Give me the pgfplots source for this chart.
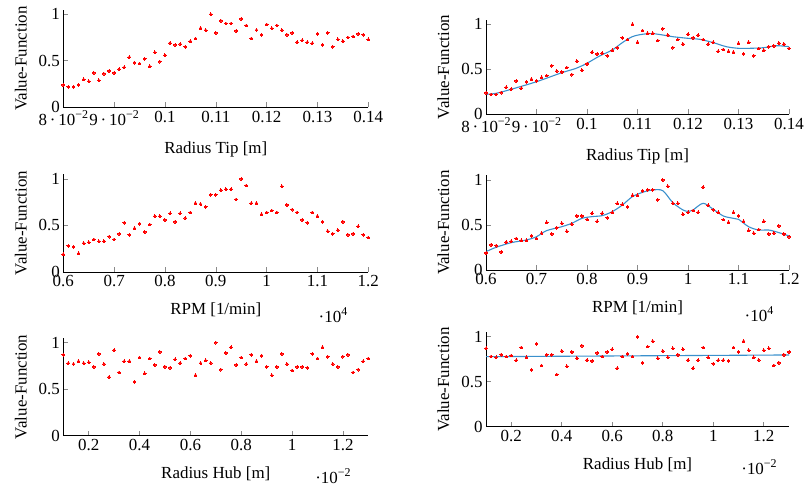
\documentclass[border=0pt]{standalone}
\usepackage{fontspec}
\setmainfont{Liberation Serif}
\usepackage{pgfplots}
\usepackage{pgfplotstable}
\pgfplotsset{compat=1.18}
\definecolor{fitblue}{HTML}{3A90CC}
\definecolor{tickgray}{HTML}{8A8A8A}
\newcommand\fs{\fontsize{17}{20}\selectfont}
\newcommand\sups[1]{\raisebox{0.42em}{\fontsize{12}{12}\selectfont #1}}

% radius tip [m] vs value
\pgfplotstableread{
x y
0.080 0.24
0.081 0.22
0.082 0.22
0.083 0.24
0.084 0.30
0.085 0.28
0.086 0.37
0.087 0.29
0.088 0.36
0.089 0.39
0.090 0.37
0.091 0.41
0.092 0.43
0.093 0.54
0.094 0.48
0.095 0.47
0.096 0.52
0.097 0.44
0.098 0.59
0.099 0.49
0.100 0.56
0.101 0.69
0.102 0.67
0.103 0.68
0.104 0.65
0.105 0.71
0.106 0.74
0.107 0.85
0.108 0.83
0.109 1.00
0.110 0.80
0.111 0.93
0.112 0.90
0.113 0.90
0.114 0.82
0.115 0.95
0.116 0.88
0.117 0.74
0.118 0.83
0.119 0.78
0.120 0.89
0.121 0.85
0.122 0.88
0.123 0.83
0.124 0.78
0.125 0.80
0.126 0.70
0.127 0.72
0.128 0.70
0.129 0.69
0.130 0.79
0.131 0.67
0.132 0.80
0.133 0.65
0.134 0.73
0.135 0.71
0.136 0.75
0.137 0.76
0.138 0.79
0.139 0.78
0.140 0.73
}\tipdata

% rpm [1/min] vs value
\pgfplotstableread{
x y
6000 0.19
6100 0.28
6200 0.27
6300 0.20
6400 0.31
6500 0.32
6600 0.35
6700 0.33
6800 0.33
6900 0.38
7000 0.35
7100 0.41
7200 0.53
7300 0.40
7400 0.47
7500 0.52
7600 0.43
7700 0.51
7800 0.60
7900 0.60
8000 0.56
8100 0.63
8200 0.54
8300 0.63
8400 0.58
8500 0.64
8600 0.74
8700 0.73
8800 0.70
8900 0.83
9000 0.83
9100 0.88
9200 0.89
9300 0.89
9400 0.78
9500 1.00
9600 0.93
9700 0.74
9800 0.74
9900 0.62
10000 0.64
10100 0.66
10200 0.64
10300 0.92
10400 0.72
10500 0.67
10600 0.64
10700 0.56
10800 0.53
10900 0.64
11000 0.60
11100 0.54
11200 0.44
11300 0.41
11400 0.45
11500 0.54
11600 0.40
11700 0.41
11800 0.49
11900 0.40
12000 0.37
}\rpmdata

% radius hub [m] vs value
\pgfplotstableread{
x y
0.0010 0.87
0.0012 0.78
0.0014 0.77
0.0016 0.80
0.0018 0.78
0.0020 0.79
0.0022 0.74
0.0024 0.88
0.0026 0.77
0.0028 0.63
0.0030 0.92
0.0032 0.68
0.0034 0.80
0.0036 0.80
0.0038 0.58
0.0040 0.84
0.0042 0.67
0.0044 0.83
0.0046 0.76
0.0048 0.90
0.0050 0.74
0.0052 0.73
0.0054 0.82
0.0056 0.78
0.0058 0.83
0.0060 0.86
0.0062 0.65
0.0064 0.78
0.0066 0.81
0.0068 0.78
0.0070 1.00
0.0072 0.71
0.0074 0.89
0.0076 0.95
0.0078 0.76
0.0080 0.84
0.0082 0.77
0.0084 0.87
0.0086 0.80
0.0088 0.86
0.0090 0.74
0.0092 0.65
0.0094 0.74
0.0096 0.88
0.0098 0.77
0.0100 0.70
0.0102 0.74
0.0104 0.74
0.0106 0.73
0.0108 0.88
0.0110 0.83
0.0112 0.95
0.0114 0.85
0.0116 0.77
0.0118 0.74
0.0120 0.85
0.0122 0.87
0.0124 0.68
0.0126 0.71
0.0128 0.80
0.0130 0.83
}\hubdata

% fitted curves
\pgfplotstableread{
x y
0.0800 0.222
0.0820 0.233
0.0850 0.278
0.0900 0.362
0.0950 0.462
0.0978 0.510
0.1000 0.567
0.1025 0.648
0.1050 0.714
0.1070 0.796
0.1090 0.863
0.1110 0.889
0.1130 0.896
0.1150 0.881
0.1170 0.862
0.1200 0.844
0.1223 0.833
0.1250 0.796
0.1276 0.751
0.1300 0.733
0.1322 0.733
0.1350 0.740
0.1375 0.762
0.1400 0.751
}\tipfit

\pgfplotstableread{
x y
6000 0.204
6200 0.252
6500 0.304
6800 0.333
7000 0.370
7200 0.437
7500 0.481
7700 0.519
7900 0.574
8100 0.593
8300 0.604
8500 0.648
8700 0.722
8900 0.815
9100 0.863
9300 0.889
9500 0.881
9700 0.748
9900 0.667
10000 0.652
10100 0.667
10300 0.741
10500 0.674
10700 0.600
10900 0.574
11000 0.563
11200 0.481
11400 0.444
11600 0.444
11800 0.415
12000 0.378
}\rpmfit

\pgfplotstableread{
x y
0.0010 0.778
0.0130 0.797
}\hubfit

\pgfplotsset{
  vf/.style={
    scale only axis, anchor=south west,
    axis lines=left, axis line style={-, black, line width=0.6bp},
    ymin=0, ymax=1.05, ytick={0,0.5,1}, yticklabels={0,0.5,1},
    tick align=inside, major tick length=5bp,
    tick style={tickgray, line width=0.6bp},
    tick label style={font=\fs}, label style={font=\fs},
    xlabel style={yshift=-9bp}, ylabel style={yshift=5bp},
    ylabel={Value-Function}, scaled x ticks=false, clip=false,
  },
  leftcol/.style={vf, width=305bp, height=97.7bp},
  rightcol/.style={vf, width=303bp, height=94.5bp},
  tipx/.style={xmin=0.08, xmax=0.14,
    xtick={0.08,0.09,0.10,0.11,0.12,0.13,0.14},
    xticklabels={8\,·\,10\sups{−2},9\,·\,10\sups{−2},0.1,0.11,0.12,0.13,0.14},
    xlabel={Radius Tip [m]}},
  rpmx/.style={xmin=6000, xmax=12000,
    xtick={6000,7000,8000,9000,10000,11000,12000},
    xticklabels={0.6,0.7,0.8,0.9,1,1.1,1.2},
    xlabel={RPM [1/min]}},
  hubx/.style={xmin=0.001, xmax=0.013,
    xtick={0.002,0.004,0.006,0.008,0.010,0.012},
    xticklabels={0.2,0.4,0.6,0.8,1,1.2},
    xlabel={Radius Hub [m]}},
  dots/.style={only marks, color=red, mark=*, mark size=1.4bp,
    mark options={solid, fill=red, draw=red, line width=0pt}},
  fit/.style={no marks, smooth, fitblue, line width=1.1bp},
}

\begin{document}
\begin{tikzpicture}[x=1bp,y=1bp]
\path[use as bounding box] (0,0) rectangle (804,488);

% left column: samples only
\begin{axis}[leftcol, tipx, at={(63.3bp,380.7bp)}]
\addplot[dots] table {\tipdata};
\end{axis}
\begin{axis}[leftcol, rpmx, at={(63.3bp,216bp)}]
\addplot[dots] table {\rpmdata};
\end{axis}
\begin{axis}[leftcol, hubx, at={(63.3bp,52.3bp)}]
\addplot[dots] table {\hubdata};
\end{axis}

% right column: samples with fit
\begin{axis}[rightcol, tipx, at={(486bp,373.7bp)}]
\addplot[dots] table {\tipdata};
\addplot[fit] table {\tipfit};
\end{axis}
\begin{axis}[rightcol, rpmx, at={(486bp,218bp)}]
\addplot[fit] table {\rpmfit};
\addplot[dots] table {\rpmdata};
\end{axis}
\begin{axis}[rightcol, hubx, at={(486bp,61.3bp)}]
\addplot[fit] table {\hubfit};
\addplot[dots] table {\hubdata};
\end{axis}

% axis multipliers
\node[font=\fs] at (333,173) {·10\sups{4}};
\node[font=\fs] at (333,12) {·10\sups{−2}};
\node[font=\fs] at (759,174) {·10\sups{4}};
\node[font=\fs] at (759,21) {·10\sups{−2}};
\end{tikzpicture}
\end{document}
